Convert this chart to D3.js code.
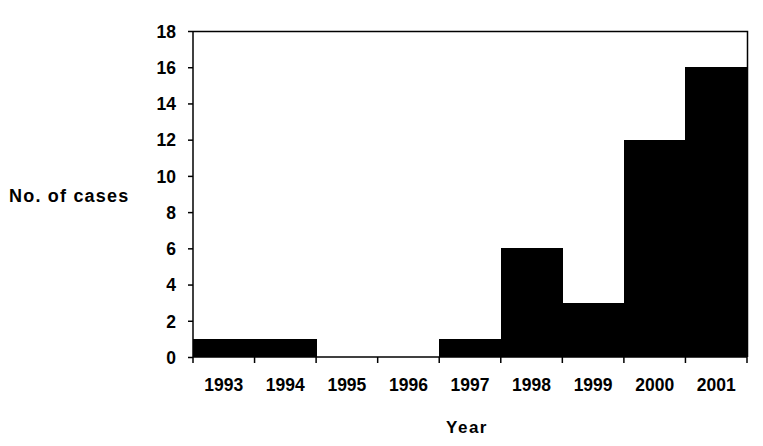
<!DOCTYPE html>
<html><head><meta charset="utf-8">
<script src="https://cdn.jsdelivr.net/npm/d3@7"></script>
<style>body{margin:0;background:#fff}svg{display:block}text{font-family:"Liberation Sans",Arial,sans-serif;font-weight:bold;fill:#000}</style>
</head><body><svg id="c" width="763" height="446"></svg>
<script>
const years = ["1993","1994","1995","1996","1997","1998","1999","2000","2001"];
const cases = [1,1,0,0,1,6,3,12,16];
const yTicks = [0,2,4,6,8,10,12,14,16,18];

const svg = d3.select("#c");
const L=193, R=747, T=31, B=357;
const x = d3.scaleBand().domain(years).range([L,R]).padding(0);
const y = d3.scaleLinear().domain([0,18]).range([B,T]);

svg.append("g").attr("shape-rendering","crispEdges").selectAll("rect").data(years).join("rect")
  .attr("x", d=>x(d)).attr("width", x.bandwidth()+1)
  .attr("y", (d,i)=>y(cases[i])).attr("height",(d,i)=>B-y(cases[i]))
  .attr("fill","#000");

// frame top/right
svg.append("path").attr("d",`M${L},${T+0.5}H${R+0.5}V${B}`).attr("fill","none").attr("stroke","#000").attr("stroke-width",1.5);

const ya = svg.append("g").attr("transform",`translate(${L},0)`)
  .call(d3.axisLeft(y).tickValues(yTicks).tickSize(5).tickPadding(12).tickFormat(d3.format("d")));
ya.select(".domain").attr("stroke-width",1.5).attr("d",`M0,${T}V${B}`);
ya.selectAll(".tick line").attr("stroke-width",1.5);
ya.selectAll("text").style("font-size","17.5px").attr("font-family",null).attr("dy","0.36em");

// x axis with ticks at band edges
const xa = svg.append("g").attr("transform",`translate(0,${B})`);
xa.append("line").attr("x1",L).attr("x2",R).attr("stroke","#000").attr("stroke-width",1.5);
const edges = years.map(d=>x(d)).concat([R]);
xa.selectAll("line.t").data(edges).join("line").attr("class","t")
  .attr("x1",d=>d).attr("x2",d=>d).attr("y1",0).attr("y2",6).attr("stroke","#000").attr("stroke-width",1.5);
xa.selectAll("text").data(years).join("text")
  .attr("x",d=>x(d)+x.bandwidth()/2).attr("y",34).attr("text-anchor","middle")
  .style("font-size","17.5px").text(d=>d);

svg.append("text").attr("x",467).attr("y",433).attr("text-anchor","middle").style("font-size","17px").style("letter-spacing","1.5px").text("Year");
svg.append("text").attr("x",9).attr("y",202).style("font-size","18px").style("letter-spacing","1.2px").text("No. of cases");
</script></body></html>
